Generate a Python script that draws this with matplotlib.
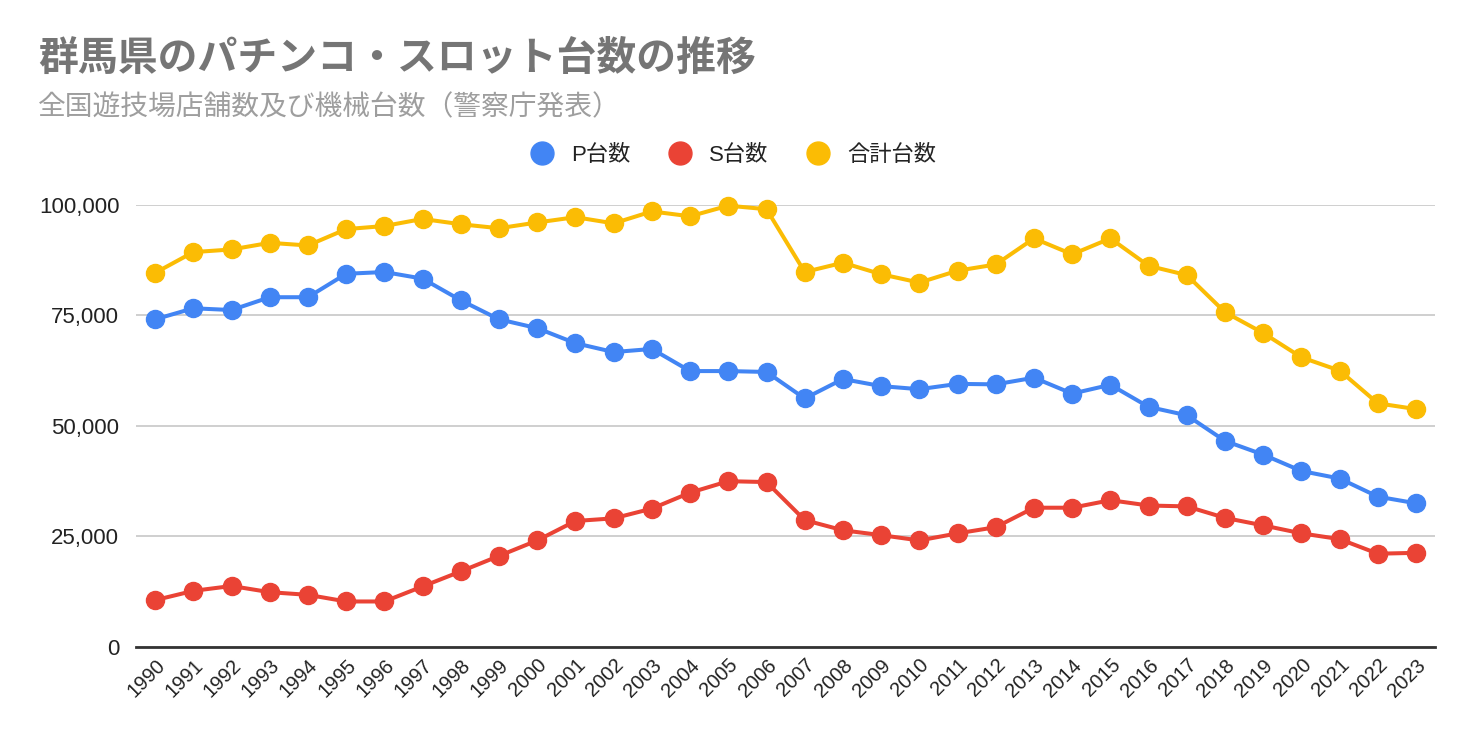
import matplotlib
matplotlib.use('Agg')
import matplotlib.pyplot as plt
from matplotlib.ticker import FuncFormatter

plt.rcParams['font.family'] = ['Liberation Sans', 'Noto Sans CJK JP', 'DejaVu Sans']

years = [str(y) for y in range(1990, 2024)]

# P台数
p_units = [74100, 76600, 76200, 79100, 79100, 84400, 84800, 83300, 78400, 74100,
           72100, 68700, 66700, 67400, 62400, 62400, 62200, 56200, 60600, 59000,
           58300, 59500, 59400, 60900, 57300, 59300, 54300, 52400, 46600, 43500,
           39800, 38100, 34000, 32500]
# S台数
s_units = [10600, 12700, 13800, 12400, 11800, 10300, 10300, 13700, 17100, 20600,
           24100, 28500, 29100, 31300, 34900, 37500, 37300, 28700, 26400, 25300,
           24100, 25700, 27100, 31500, 31500, 33200, 32000, 31800, 29200, 27500,
           25700, 24400, 21100, 21300]
# 合計台数
total_units = [84600, 89300, 89900, 91400, 90800, 94500, 95200, 96800, 95600, 94700,
               96000, 97200, 95800, 98500, 97400, 99800, 99000, 84800, 86900, 84300,
               82400, 85100, 86500, 92400, 88800, 92400, 86200, 84100, 75700, 71000,
               65500, 62500, 55100, 53800]

series = [('P台数', p_units, '#4285F4'),
          ('S台数', s_units, '#EA4335'),
          ('合計台数', total_units, '#FBBC04')]

fig = plt.figure(figsize=(14.72, 7.42), dpi=100)
ax = fig.add_axes([0.0924, 0.128, 0.8826, 0.596])

x = list(range(len(years)))
for name, vals, col in series:
    ax.plot(x, vals, color=col, lw=2.9, marker='o', markersize=13,
            label=name, clip_on=False, zorder=3)

ax.set_xlim(-0.5, len(years) - 0.5)
ax.set_ylim(0, 100000)
ax.set_yticks([0, 25000, 50000, 75000, 100000])
ax.yaxis.set_major_formatter(FuncFormatter(lambda v, p: '{:,.0f}'.format(v)))
ax.set_xticks(x)
ax.set_xticklabels(years, rotation=45, ha='right', rotation_mode='anchor')

ax.grid(axis='y', color='#cccccc', lw=1.3)
ax.set_axisbelow(True)
for s in ['top', 'right', 'left']:
    ax.spines[s].set_visible(False)
ax.spines['bottom'].set_color('#333333')
ax.spines['bottom'].set_linewidth(2)
ax.spines['bottom'].set_zorder(4)
ax.tick_params(axis='both', length=0, colors='#222222')
ax.tick_params(axis='y', pad=12, labelsize=16)
ax.tick_params(axis='x', pad=6, labelsize=14.5)

fig.text(0.026, 0.922, '群馬県のパチンコ・スロット台数の推移', fontsize=28.7,
         fontweight='bold', color='#757575', va='center',
         family=['Noto Sans CJK JP', 'DejaVu Sans'])
fig.text(0.026, 0.856, '全国遊技場店舗数及び機械台数（警察庁発表）', fontsize=20,
         color='#9e9e9e', va='center', family=['Noto Sans CJK JP', 'DejaVu Sans'])

leg = fig.legend(loc='center', bbox_to_anchor=(0.4975, 0.791), ncol=3, frameon=False,
                 fontsize=16, handlelength=1.2, handletextpad=0.7, columnspacing=1.65,
                 markerscale=1.27)
for h in leg.legend_handles:
    h.set_linestyle('none')
for t in leg.get_texts():
    t.set_color('#222222')

fig.savefig('out.png', dpi=100)
